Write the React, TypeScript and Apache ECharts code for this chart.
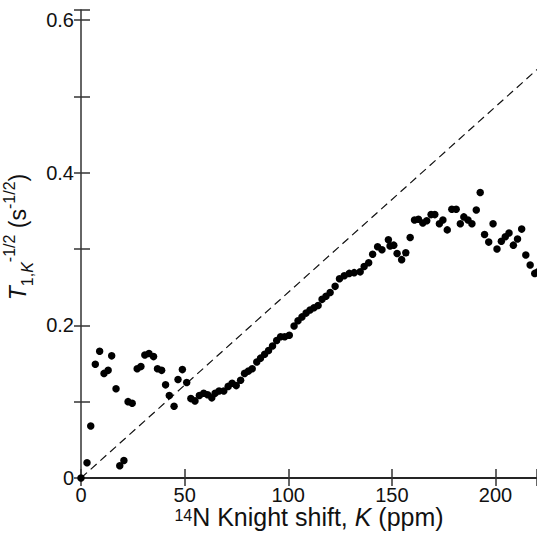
import React, { useEffect, useRef } from "react";
import * as echarts from "echarts";

const knightShift = [
  0, 2.9, 4.7, 6.9, 9.0, 11.1, 13.1, 14.8, 16.9, 18.7,
  20.7, 22.7, 24.7, 27.1, 28.9, 30.8, 32.8, 35.0, 36.9, 38.9,
  40.8, 42.6, 44.9, 46.8, 48.9, 51.0, 53.0, 55.0, 57.1, 59.2,
  61.1, 63.1, 64.7, 66.6, 68.9, 71.0, 72.9, 74.9, 77.0, 78.9,
  80.8, 82.6, 84.8, 86.6, 88.6, 90.5, 92.4, 94.4, 96.3, 98.3,
  100.5, 102.8, 104.7, 106.6, 108.6, 110.5, 112.4, 114.4, 116.3, 118.2,
  120.2, 122.6, 124.7, 127.0, 129.4, 131.8, 134.7, 136.6, 138.8, 140.7,
  143.1, 145.2, 148.3, 149.1, 150.9, 152.5, 154.7, 156.7, 158.8, 160.9,
  162.8, 164.9, 166.8, 168.9, 170.7, 172.9, 174.6, 176.7, 178.9, 181.0,
  183.0, 184.7, 186.7, 188.6, 190.7, 192.6, 194.7, 196.7, 198.8, 200.7,
  202.8, 204.7, 206.5, 208.6, 210.6, 212.6, 214.6, 216.7, 218.9, 220.5,
];

const relaxation = [
  0, 0.020, 0.068, 0.149, 0.166, 0.137, 0.141, 0.160, 0.117, 0.016,
  0.023, 0.100, 0.098, 0.143, 0.146, 0.161, 0.163, 0.159, 0.143, 0.141,
  0.122, 0.108, 0.094, 0.129, 0.142, 0.125, 0.104, 0.101, 0.108, 0.111,
  0.109, 0.105, 0.111, 0.114, 0.114, 0.120, 0.124, 0.121, 0.128, 0.137,
  0.140, 0.143, 0.152, 0.157, 0.162, 0.167, 0.173, 0.180, 0.185, 0.185,
  0.187, 0.199, 0.206, 0.211, 0.216, 0.220, 0.223, 0.226, 0.234, 0.238,
  0.243, 0.251, 0.261, 0.265, 0.268, 0.269, 0.270, 0.277, 0.282, 0.293,
  0.303, 0.299, 0.312, 0.304, 0.305, 0.294, 0.286, 0.295, 0.315, 0.338,
  0.339, 0.334, 0.337, 0.345, 0.345, 0.333, 0.338, 0.325, 0.352, 0.352,
  0.333, 0.342, 0.338, 0.333, 0.351, 0.374, 0.319, 0.309, 0.333, 0.300,
  0.310, 0.316, 0.321, 0.305, 0.313, 0.326, 0.292, 0.279, 0.268, 0.270,
];

const guideX = [0, 220];
const guideY = [0, 0.535];

const FONT = "Liberation Sans, Arial, sans-serif";
const INK = "#111";

export default function App() {
  const ref = useRef<HTMLDivElement>(null);
  useEffect(() => {
    if (!ref.current) return;
    const chart = echarts.init(ref.current, null, { renderer: "svg" });
    const points = knightShift.map((x, i) => [x, relaxation[i]]);
    const guide = guideX.map((x, i) => [x, guideY[i]]);
    const axisLine = { show: true, lineStyle: { color: "#333", width: 1.5 } };
    chart.setOption({
      animation: false,
      backgroundColor: "#fff",
      grid: {
        left: 81,
        right: 0,
        top: 10,
        bottom: 57,
        containLabel: false,
        outerBoundsMode: "none",
      },
      xAxis: [
        {
          type: "value",
          min: 0,
          max: 220,
          interval: 50,
          position: "bottom",
          axisLine,
          axisTick: { show: true, inside: true, length: 9, lineStyle: { color: "#333", width: 1.5 } },
          axisLabel: {
            color: INK,
            fontSize: 20,
            lineHeight: 18,
            fontFamily: FONT,
            margin: 8,
            formatter: (v: number) => (Math.round(v) % 50 === 0 ? String(Math.round(v)) : ""),
          },
          splitLine: { show: false },
          name: "{sup|14}{n|N Knight shift, }{i|K}{n| (ppm)}",
          nameLocation: "middle",
          nameGap: 29,
          nameMoveOverlap: false,
          nameTextStyle: {
            color: INK,
            fontFamily: FONT,
            rich: {
              n: { fontSize: 25, color: INK, fontFamily: FONT, lineHeight: 22, verticalAlign: "bottom" },
              i: { fontSize: 25, color: INK, fontFamily: FONT, fontStyle: "italic", lineHeight: 22, verticalAlign: "bottom" },
              sup: { fontSize: 16, color: INK, fontFamily: FONT, lineHeight: 22, verticalAlign: "top" },
            },
          },
        },
        {
          type: "value",
          min: 0,
          max: 220,
          interval: 50,
          position: "top",
          axisLine: { show: true, lineStyle: { color: "#111", width: 1.5 } },
          axisTick: { show: true, inside: true, length: 8, lineStyle: { color: "#333", width: 1.5 } },
          axisLabel: { show: false },
          splitLine: { show: false },
        },
      ],
      yAxis: [
        {
          type: "value",
          min: 0,
          max: 0.613,
          interval: 0.1,
          position: "left",
          axisLine,
          axisTick: { show: true, inside: true, length: 9, lineStyle: { color: "#333", width: 1.5 } },
          axisLabel: {
            color: INK,
            fontSize: 20,
            fontFamily: FONT,
            margin: 7,
            formatter: (v: number) => {
              const k = Math.round(v * 100);
              if (k % 20 !== 0) return "";
              return k === 0 ? "0" : (k / 100).toFixed(1);
            },
          },
          splitLine: { show: false },
          name: "{i|T}{sub|1,}{subi|K}{sup|-1/2}{n| (s}{sup|-1/2}{n|)}",
          nameLocation: "middle",
          nameGap: 46,
          nameMoveOverlap: false,
          nameTextStyle: {
            color: INK,
            fontFamily: FONT,
            padding: [0, 0, 0, 14],
            rich: {
              n: { fontSize: 23, color: INK, fontFamily: FONT, lineHeight: 34, verticalAlign: "middle" },
              i: { fontSize: 23, color: INK, fontFamily: FONT, fontStyle: "italic", lineHeight: 34, verticalAlign: "middle" },
              sub: { fontSize: 16, color: INK, fontFamily: FONT, lineHeight: 34, verticalAlign: "bottom" },
              subi: { fontSize: 16, color: INK, fontFamily: FONT, fontStyle: "italic", lineHeight: 34, verticalAlign: "bottom" },
              sup: { fontSize: 16, color: INK, fontFamily: FONT, lineHeight: 34, verticalAlign: "top" },
            },
          },
        },
        {
          type: "value",
          min: 0,
          max: 0.613,
          interval: 0.1,
          position: "right",
          axisLine: { show: false },
          axisTick: { show: true, inside: true, length: 7, lineStyle: { color: "#333", width: 1.5 } },
          axisLabel: { show: false },
          splitLine: { show: false },
        },
      ],
      series: [
        {
          type: "line",
          data: guide,
          symbol: "none",
          lineStyle: { color: "#111", width: 1.2, type: [8, 5] },
          silent: true,
          z: 2,
        },
        {
          type: "scatter",
          data: points,
          symbol: "circle",
          symbolSize: 7.5,
          clip: false,
          itemStyle: { color: "#000", opacity: 1 },
          z: 3,
        },
      ],
    });
    return () => chart.dispose();
  }, []);
  return (
    <div
      ref={ref}
      style={{ position: "absolute", left: 0, top: 0, width: 537, height: 535 }}
    />
  );
}
